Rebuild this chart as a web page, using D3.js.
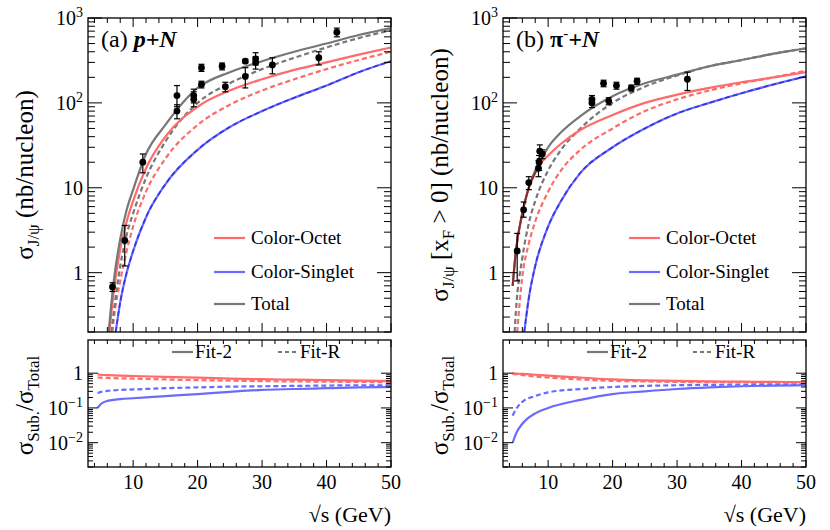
<!DOCTYPE html>
<html><head><meta charset="utf-8">
<script src="https://cdn.jsdelivr.net/npm/d3@7"></script>
<style>body{margin:0;background:#fff}</style>
</head><body><svg id="c" width="830" height="530" font-family="'Liberation Serif','Times New Roman','DejaVu Serif',serif"></svg>
<script>
// ---------- data: p+N ----------
const pN_x = [6.2,7,8,9,10,12,15,20,25,30,35,40,45,50];
const pN_total = [0.2,0.8,2.5,5.5,9.5,25,55,150,230,310,400,500,630,760];
const pN_totalR_x = [6.6,7,8,9,10,12,15,20,25,30,35,40,45,50];
const pN_totalR = [0.2,0.35,1.2,2.8,5,13,35,100,170,250,340,450,580,720];
const pN_oct_x = [6.3,7,8,9,10,12,15,20,25,30,35,40,45,50];
const pN_oct = [0.2,0.6,1.9,4,7,17,40,90,140,190,245,300,370,450];
const pN_octR_x = [6.8,7,8,9,10,12,15,20,25,30,35,40,45,50];
const pN_octR = [0.2,0.28,0.8,1.8,3.5,9,22,55,95,140,190,250,320,400];
const pN_sin_x = [7.3,8,9,10,12,15,20,25,30,35,40,45,50];
const pN_sin = [0.2,0.45,1.0,1.8,4.5,11,28,52,80,115,160,230,310];
const pN_data = [[6.8,0.68,0.6,0.76],[8.7,2.4,1.2,3.6],[11.5,20,15,25],[16.8,80,65,95],[16.8,122,90,160],[19.4,110,90,135],[19.4,122,100,145],[20.6,260,235,285],[20.6,165,150,180],[23.8,270,245,295],[24.3,155,135,175],[27.4,205,150,260],[27.4,310,295,325],[29,300,250,350],[29,330,280,390],[31.6,280,220,340],[38.8,340,280,400],[41.6,680,600,760]];
const pN_rx = [4.5,5,6,8,10,15,20,25,30,35,40,45,50];
const pN_rOct = [0.92,0.9,0.88,0.85,0.83,0.78,0.74,0.7,0.67,0.65,0.63,0.61,0.6];
const pN_rOctR = [0.75,0.74,0.73,0.71,0.7,0.66,0.63,0.61,0.59,0.58,0.57,0.56,0.55];
const pN_rSin = [0.1,0.13,0.16,0.18,0.19,0.22,0.25,0.29,0.33,0.35,0.37,0.39,0.4];
const pN_rSinR = [0.27,0.29,0.31,0.33,0.34,0.37,0.39,0.41,0.42,0.43,0.44,0.45,0.45];
// ---------- data: pi-+N ----------
const pi_x = [4.5,5,6,7,8,9,10,12,15,20,25,30,35,40,45,50];
const pi_total = [0.7,1.8,5,10,16,22,30,45,70,120,170,215,270,320,380,440];
const pi_oct = [0.7,1.8,5,10,15,20,24,33,48,72,100,125,150,175,200,230];
const pi_totalR_x = [4.8,5,6,7,8,10,12,15,20,25,30,35,40,45,50];
const pi_totalR = [0.2,0.35,1.5,3.8,7,16,28,50,100,155,210,270,320,380,440];
const pi_octR_x = [5.2,6,7,8,10,12,15,20,25,30,35,40,45,50];
const pi_octR = [0.2,0.9,2.2,4,9,16,28,50,80,110,140,170,200,240];
const pi_sin_x = [6.3,7,8,10,12,15,20,25,30,35,40,45,50];
const pi_sin = [0.2,0.5,1.2,3.5,7,15,30,50,75,100,130,165,205];
const pi_data = [[5.2,1.8,0.8,2.9],[6.2,5.5,4.5,6.8],[7,11.5,9.5,13.5],[8.5,17,13.5,21],[8.6,20,16,24],[8.7,27,22,32],[9.1,25,22,28],[16.8,100,88,112],[16.8,110,98,122],[18.6,170,155,185],[19.4,105,95,115],[20.6,160,145,175],[22.9,150,138,162],[23.8,180,165,195],[31.6,190,140,230]];
const pi_rx = [4.5,5,6,8,10,15,20,25,30,35,40,45,50];
const pi_rOct = [1.0,0.98,0.95,0.9,0.85,0.75,0.66,0.62,0.6,0.58,0.57,0.56,0.55];
const pi_rOctR = [0.95,0.93,0.88,0.8,0.75,0.66,0.6,0.58,0.56,0.55,0.55,0.55,0.54];
const pi_rSin = [0.01,0.018,0.035,0.07,0.1,0.17,0.25,0.3,0.35,0.39,0.42,0.44,0.45];
const pi_rSinR = [0.06,0.09,0.15,0.22,0.28,0.35,0.4,0.43,0.45,0.46,0.47,0.48,0.48];

const RED="#ff6a6a", BLUE="#6a6aff", BLUED="#3535e0", GRAY="#777777";
const svg=d3.select("#c");
const X0=88,X1=391,T0=18,T1=332,B0=340,B1=467;

function panel(ox, cfg){
  const g=svg.append("g").attr("transform",`translate(${ox},0)`);
  const x=d3.scaleLinear().domain([3,50]).range([X0,X1]);
  const y=d3.scaleLog().domain([0.2,1000]).range([T1,T0]);
  const yr=d3.scaleLog().domain([0.002,9]).range([B1,B0]);
  g.append("clipPath").attr("id","ct"+ox).append("rect").attr("x",X0).attr("y",T0).attr("width",X1-X0).attr("height",T1-T0);
  g.append("clipPath").attr("id","cb"+ox).append("rect").attr("x",X0).attr("y",B0).attr("width",X1-X0).attr("height",B1-B0);
  function line(xs,ys,sc,color,dash,clip,w){
    const l=d3.line().x((d,i)=>x(xs[i])).y(d=>sc(d)).curve(d3.curveMonotoneX);
    g.append("path").attr("d",l(ys)).attr("fill","none").attr("stroke",color).attr("stroke-width",w||2.2)
     .attr("stroke-dasharray",dash?"5,3":null).attr("clip-path",`url(#${clip})`);
  }
  const c=cfg;
  line(c.sinx,c.sin,y,BLUE,false,"ct"+ox);
  line(c.sinx,c.sin,y,BLUED,true,"ct"+ox,1.6);
  line(c.octRx,c.octR,y,RED,true,"ct"+ox);
  line(c.totRx,c.totR,y,GRAY,true,"ct"+ox);
  line(c.octx,c.oct,y,RED,false,"ct"+ox);
  line(c.totx,c.tot,y,GRAY,false,"ct"+ox);
  if(c.dark) line(c.octx.slice(0,6),c.oct.slice(0,6),y,"#8a2a2a",false,"ct"+ox,1.8);
  c.data.forEach(d=>{
    g.append("line").attr("x1",x(d[0])).attr("x2",x(d[0])).attr("y1",y(d[2])).attr("y2",y(d[3])).attr("stroke","#000").attr("stroke-width",1.2);
    [d[2],d[3]].forEach(v=>g.append("line").attr("x1",x(d[0])-3).attr("x2",x(d[0])+3).attr("y1",y(v)).attr("y2",y(v)).attr("stroke","#000").attr("stroke-width",1.2));
    g.append("circle").attr("cx",x(d[0])).attr("cy",y(d[1])).attr("r",3.4).attr("fill","#000");
  });
  line(c.rx,c.rSin,yr,BLUE,false,"cb"+ox);
  line(c.rx,c.rSinR,yr,BLUE,true,"cb"+ox);
  line(c.rx,c.rOct,yr,RED,false,"cb"+ox);
  line(c.rx,c.rOctR,yr,RED,true,"cb"+ox);
  [[T0,T1],[B0,B1]].forEach(([a,b])=>g.append("rect").attr("x",X0).attr("y",a).attr("width",X1-X0).attr("height",b-a).attr("fill","none").attr("stroke","#000").attr("stroke-width",1.3));
  const tk=(x1,y1,x2,y2)=>g.append("line").attr("x1",x1).attr("y1",y1).attr("x2",x2).attr("y2",y2).attr("stroke","#000").attr("stroke-width",1);
  for(let v=4;v<=50;v+=2){const maj=v%10===0;const L=maj?9:5;const xx=x(v);
    tk(xx,T1,xx,T1-L);tk(xx,T0,xx,T0+L);tk(xx,B1,xx,B1-(maj?7:4));tk(xx,B0,xx,B0+(maj?7:4));}
  [10,20,30,40,50].forEach(v=>g.append("text").attr("x",x(v)).attr("y",489).attr("text-anchor","middle").attr("font-size",20).text(v));
  function logTicks(sc,lo,hi,ya,yb,Lmaj,Lmin){
    for(let e=lo;e<hi;e++)for(let m=1;m<10;m++){const v=m*Math.pow(10,e);const yy=sc(v);if(yy<ya-0.5||yy>yb+0.5)continue;
      const L=m===1?Lmaj:Lmin;tk(X0,yy,X0+L,yy);tk(X1,yy,X1-L,yy);}
    const yy=sc(Math.pow(10,hi));if(yy>=ya-0.5){tk(X0,yy,X0+Lmaj,yy);tk(X1,yy,X1-Lmaj,yy);}
  }
  logTicks(y,-1,3,T0,T1,14,7);
  logTicks(yr,-3,0,B0,B1,10,5);
  const lab=(yy,base,exp)=>{const t=g.append("text").attr("x",X0-5).attr("y",yy+7).attr("text-anchor","end").attr("font-size",20);
    if(exp===null)t.text(base);else{t.append("tspan").text(base);t.append("tspan").attr("dy",-8).attr("font-size",14).text(exp);}};
  lab(y(1),"1",null);lab(y(10),"10",null);lab(y(100),"10","2");lab(y(1000),"10","3");
  lab(yr(1),"1",null);lab(yr(0.1),"10","−1");lab(yr(0.01),"10","−2");
  const pl=g.append("text").attr("x",101).attr("y",47).attr("font-size",24);
  pl.append("tspan").text(c.tag+" ");
  c.proj(pl);
  [["Color-Octet",RED,238],["Color-Singlet",BLUE,272],["Total",GRAY,304]].forEach(([t,col,yy])=>{
    g.append("line").attr("x1",214).attr("x2",245).attr("y1",yy).attr("y2",yy).attr("stroke",col).attr("stroke-width",2.2);
    g.append("text").attr("x",251).attr("y",yy+6).attr("font-size",19).text(t);});
  g.append("line").attr("x1",172).attr("x2",193).attr("y1",352).attr("y2",352).attr("stroke",GRAY).attr("stroke-width",2.2);
  g.append("text").attr("x",195).attr("y",358).attr("font-size",19).text("Fit-2");
  g.append("line").attr("x1",278).attr("x2",297).attr("y1",352).attr("y2",352).attr("stroke",GRAY).attr("stroke-width",2.2).attr("stroke-dasharray","4,3");
  g.append("text").attr("x",300).attr("y",358).attr("font-size",19).text("Fit-R");
  g.append("text").attr("x",X1).attr("y",522).attr("text-anchor","end").attr("font-size",22).text("√s (GeV)");
  const yt=g.append("text").attr("transform",`translate(33,${(T0+T1)/2}) rotate(-90)`).attr("text-anchor","middle").attr("font-size",25);
  c.ytitle(yt);
  const yt2=g.append("text").attr("transform",`translate(33,${(B0+B1)/2+2}) rotate(-90)`).attr("text-anchor","middle").attr("font-size",25);
  yt2.append("tspan").text("σ");yt2.append("tspan").attr("dy",6).attr("font-size",17).text("Sub.");
  yt2.append("tspan").attr("dy",-6).text("/σ");yt2.append("tspan").attr("dy",6).attr("font-size",17).text("Total");
}

panel(0,{tot:pN_total,totx:pN_x,totR:pN_totalR,totRx:pN_totalR_x,oct:pN_oct,octx:pN_oct_x,octR:pN_octR,octRx:pN_octR_x,sin:pN_sin,sinx:pN_sin_x,data:pN_data,
  rx:pN_rx,rOct:pN_rOct,rOctR:pN_rOctR,rSin:pN_rSin,rSinR:pN_rSinR,tag:"(a)",
  proj:t=>t.append("tspan").attr("font-weight","bold").attr("font-style","italic").text("p+N"),
  ytitle:t=>{t.append("tspan").text("σ");t.append("tspan").attr("dy",6).attr("font-size",17).text("J/ψ");t.append("tspan").attr("dy",-6).text(" (nb/nucleon)");}});
panel(415,{tot:pi_total,totx:pi_x,totR:pi_totalR,totRx:pi_totalR_x,oct:pi_oct,octx:pi_x,octR:pi_octR,octRx:pi_octR_x,sin:pi_sin,sinx:pi_sin_x,data:pi_data,dark:true,
  rx:pi_rx,rOct:pi_rOct,rOctR:pi_rOctR,rSin:pi_rSin,rSinR:pi_rSinR,tag:"(b)",
  proj:t=>{t.append("tspan").attr("font-weight","bold").text("π");t.append("tspan").attr("dy",-9).attr("font-size",15).text("-");t.append("tspan").attr("dy",9).attr("font-weight","bold").attr("font-style","italic").text("+N");},
  ytitle:t=>{t.append("tspan").text("σ");t.append("tspan").attr("dy",6).attr("font-size",17).text("J/ψ");t.append("tspan").attr("dy",-6).text(" [x");t.append("tspan").attr("dy",6).attr("font-size",17).text("F");t.append("tspan").attr("dy",-6).text(" > 0] (nb/nucleon)");}});
</script></body></html>
